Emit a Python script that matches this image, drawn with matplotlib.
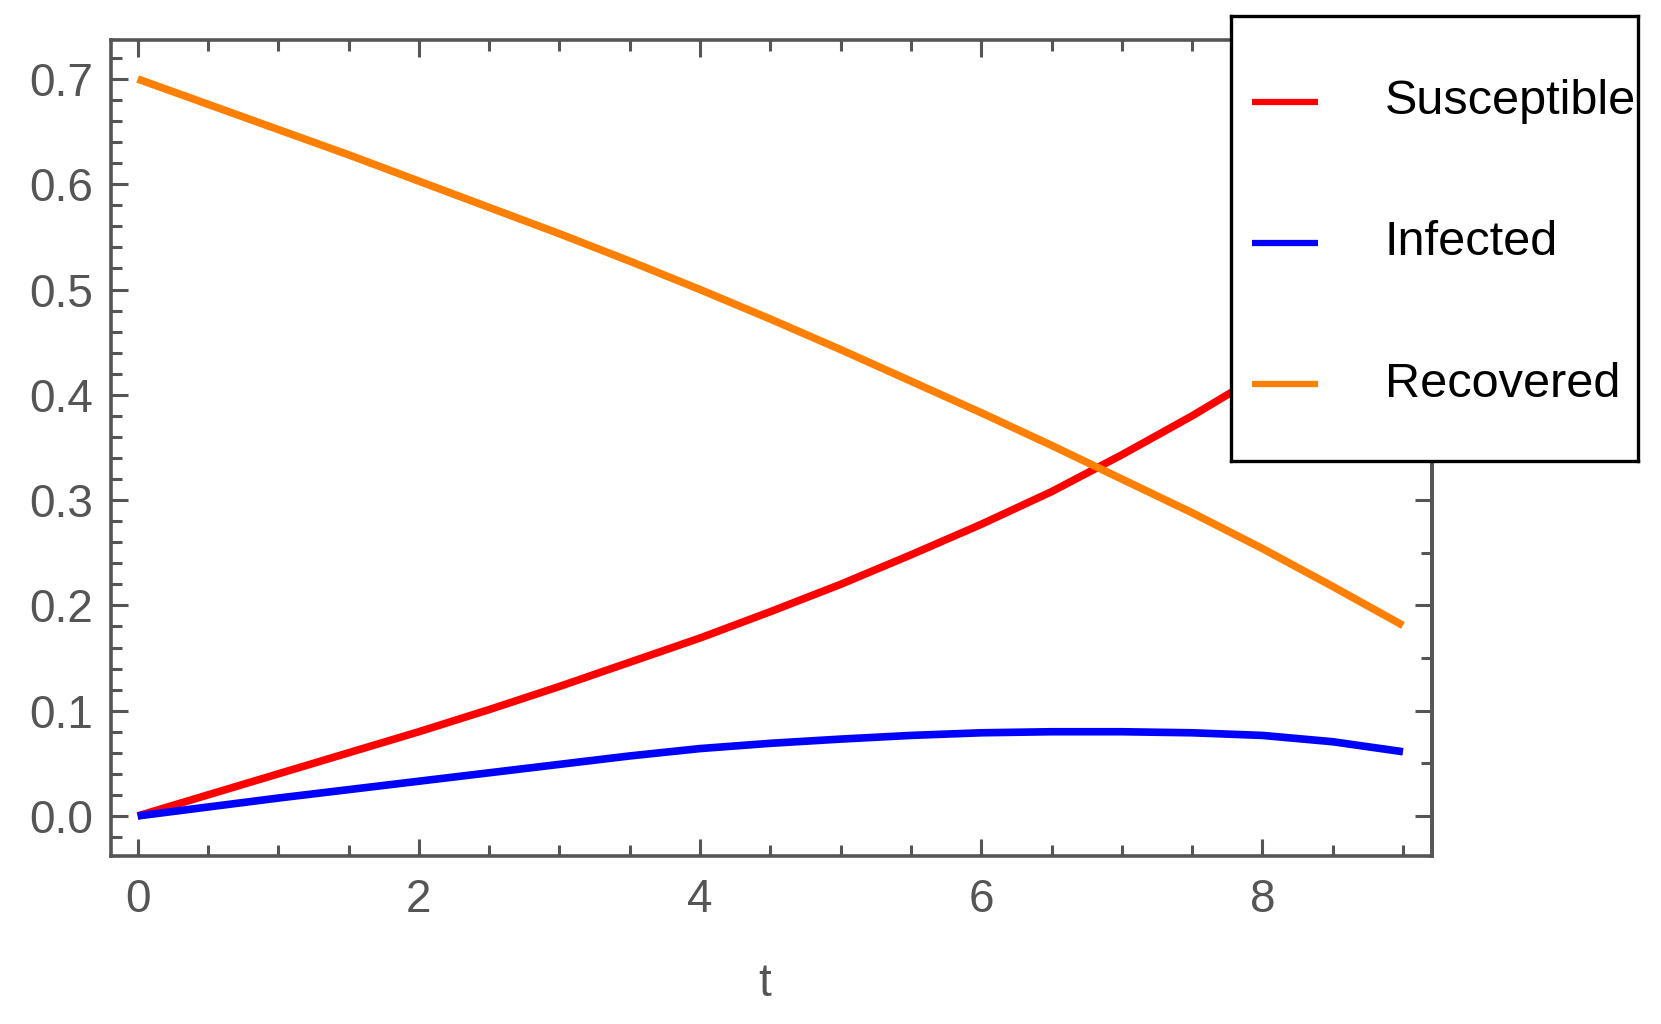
import matplotlib
matplotlib.use('Agg')
import matplotlib.pyplot as plt
from matplotlib.ticker import MultipleLocator

t = [0, 0.5, 1, 1.5, 2, 2.5, 3, 3.5, 4, 4.5, 5, 5.5, 6, 6.5, 7, 7.5, 8, 8.5, 9]
susceptible = [0, 0.02, 0.04, 0.06, 0.08, 0.101, 0.123, 0.146, 0.169, 0.194,
               0.22, 0.248, 0.277, 0.308, 0.343, 0.38, 0.42, 0.461, 0.505]
infected = [0, 0.0085, 0.017, 0.025, 0.033, 0.041, 0.049, 0.057, 0.064, 0.069,
            0.073, 0.0765, 0.079, 0.080, 0.080, 0.079, 0.0765, 0.0705, 0.061]
recovered = [0.7, 0.676, 0.652, 0.628, 0.603, 0.578, 0.553, 0.527, 0.5, 0.472,
             0.443, 0.413, 0.383, 0.352, 0.32, 0.288, 0.254, 0.218, 0.181]

labels = ['Susceptible', 'Infected', 'Recovered']
colors = ['#ff0000', '#0000ff', '#ff8000']
series = [susceptible, infected, recovered]

plt.rcParams['font.family'] = ['Liberation Sans', 'DejaVu Sans']
gray = '#555555'

fig = plt.figure(figsize=(16.61, 10.24), dpi=100)
ax = fig.add_axes([0.0668, 0.1641, 0.7953, 0.7968])

for y, c in zip(series, colors):
    ax.plot(t, y, color=c, lw=5.5, solid_capstyle='butt', solid_joinstyle='round')

ax.set_xlim(-0.19, 9.206)
ax.set_ylim(-0.038, 0.737)

ax.set_xticks([0, 2, 4, 6, 8])
ax.xaxis.set_minor_locator(MultipleLocator(0.5))
ax.set_yticks([0, 0.1, 0.2, 0.3, 0.4, 0.5, 0.6, 0.7])
ax.set_yticklabels(['0.0', '0.1', '0.2', '0.3', '0.4', '0.5', '0.6', '0.7'])
ax.yaxis.set_minor_locator(MultipleLocator(0.02))

ax.tick_params(which='both', direction='in', top=True, right=False,
               color=gray, width=2.2, labelcolor=gray, labelsize=33)
ax.tick_params(which='major', length=12)
ax.tick_params(which='minor', length=8)
ax.tick_params(axis='x', pad=16)
ax.tick_params(axis='y', pad=13)

sec = ax.secondary_yaxis('right')
sec.set_yticks([0, 0.1, 0.2, 0.3, 0.4, 0.5, 0.6, 0.7])
sec.set_yticklabels([])
sec.yaxis.set_minor_locator(MultipleLocator(0.05))
sec.tick_params(which='both', direction='in', color=gray, width=2.2)
sec.tick_params(which='major', length=12)
sec.tick_params(which='minor', length=8)
sec.spines['right'].set_color(gray)
sec.spines['right'].set_linewidth(2.6)

for s in ax.spines.values():
    s.set_color(gray)
    s.set_linewidth(2.6)

ax.set_xlabel('t', fontsize=33, color=gray)
ax.xaxis.set_label_coords(0.495, -0.13)

# legend box overlapping the top right corner
lax = fig.add_axes([0.7411, 0.5498, 0.2451, 0.4346])
lax.set_xlim(0, 1)
lax.set_ylim(0, 1)
lax.set_xticks([])
lax.set_yticks([])
for s in lax.spines.values():
    s.set_color('black')
    s.set_linewidth(2.4)
rows = [0.807, 0.49, 0.173]
for lab, c, yy in zip(labels, colors, rows):
    lax.plot([0.052, 0.214], [yy, yy], color=c, lw=4.5, solid_capstyle='butt')
    lax.text(0.378, yy, lab, fontsize=35, color='black', va='center',
             ha='left', clip_on=True)

fig.savefig('out.png', dpi=100)
